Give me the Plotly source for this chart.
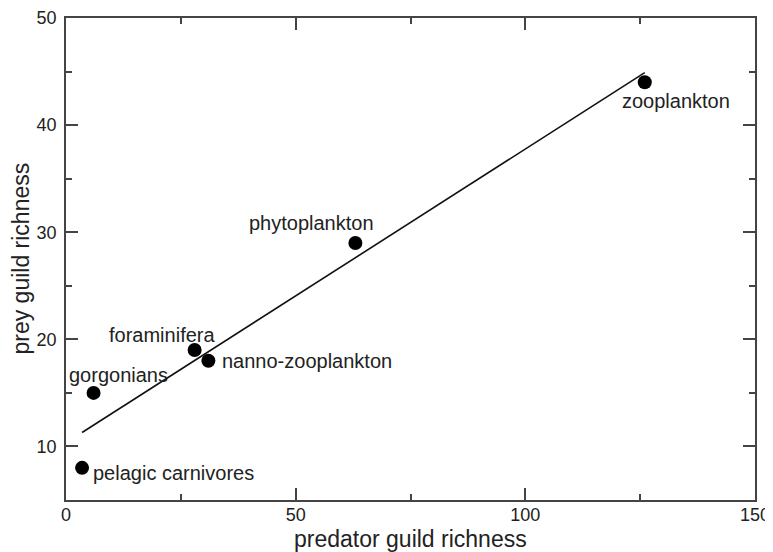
import plotly.graph_objects as go

# Data
guilds = ["pelagic carnivores", "gorgonians", "foraminifera", "nanno-zooplankton", "phytoplankton", "zooplankton"]
predator_richness = [3.5, 6, 28, 31, 63, 126]
prey_richness = [8, 15, 19, 18, 29, 44]

fit_x = [3.5, 126]
fit_y = [11.3, 44.9]

x_ticks = [0, 50, 100, 150]
y_ticks = [10, 20, 30, 40, 50]

# label placement (pixel offsets): xanchor, xshift, yshift
label_pos = {
    "pelagic carnivores": ("left", 9, -5),
    "gorgonians": ("center", 25, 18),
    "foraminifera": ("center", -33, 15),
    "nanno-zooplankton": ("left", 12, 0),
    "phytoplankton": ("center", -44, 20),
    "zooplankton": ("center", 31, -19),
}

FONT = "Liberation Sans, Arial, sans-serif"

fig = go.Figure()
fig.add_trace(go.Scatter(x=fit_x, y=fit_y, mode="lines",
                         line=dict(color="#111111", width=1.6), hoverinfo="skip"))
fig.add_trace(go.Scatter(x=predator_richness, y=prey_richness, mode="markers",
                         marker=dict(color="black", size=14), text=guilds))

for name, xv, yv in zip(guilds, predator_richness, prey_richness):
    anchor, xs, ys = label_pos[name]
    fig.add_annotation(x=xv, y=yv, text=name, showarrow=False,
                       xanchor=anchor, yanchor="middle", xshift=xs, yshift=ys,
                       font=dict(family=FONT, size=20, color="#222222"))

# axis titles
fig.add_annotation(xref="paper", yref="paper", x=0.5, y=-0.08, text="predator guild richness",
                   showarrow=False, xanchor="center", yanchor="middle",
                   font=dict(family=FONT, size=23, color="#222222"))
fig.add_annotation(xref="paper", yref="paper", x=-0.066, y=0.5, text="prey guild richness",
                   showarrow=False, xanchor="center", yanchor="middle", textangle=-90,
                   font=dict(family=FONT, size=23, color="#222222"))

axis_common = dict(
    showgrid=False, zeroline=False, showline=True, linecolor="#444444", linewidth=1.8,
    mirror="ticks", ticks="inside", ticklen=12, tickwidth=1.5, tickcolor="#444444",
    tickfont=dict(family=FONT, size=18, color="#222222"), automargin=False,
)

fig.update_xaxes(range=[0, 150], tickvals=x_ticks, ticktext=[str(v) for v in x_ticks],
                 minor=dict(tickvals=[25, 75, 125], ticks="inside", ticklen=6, tickwidth=1.5, tickcolor="#444444"),
                 ticklabelstandoff=-3, **axis_common)
fig.update_yaxes(range=[5, 50], tickvals=y_ticks, ticktext=[str(v) for v in y_ticks],
                 minor=dict(tickvals=[15, 25, 35, 45], ticks="inside", ticklen=6, tickwidth=1.5, tickcolor="#444444"),
                 ticklabelstandoff=4, **axis_common)

# page body has an 8px margin, so the figure is 8px smaller and margins shifted
fig.update_layout(width=765, height=544, showlegend=False,
                  margin=dict(l=58, r=18, t=10, b=52),
                  plot_bgcolor="white", paper_bgcolor="white")

fig.write_html("out.html")
